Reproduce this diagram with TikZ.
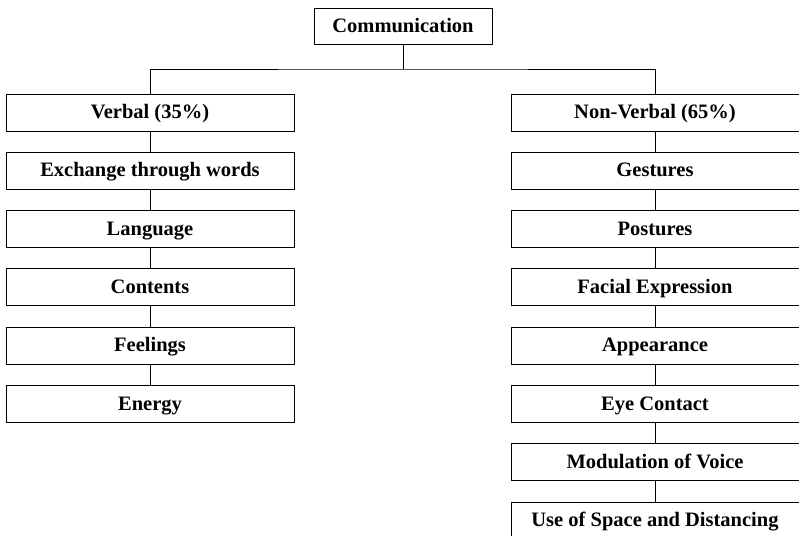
\documentclass[tikz,border=0pt]{standalone}
\usepackage{fontspec}
\setmainfont{Liberation Serif}
\usetikzlibrary{positioning}

\begin{document}
\begin{tikzpicture}[
    x=1pt, y=-1pt,
    node distance=20.3pt,
    box/.style={rectangle, draw=black, line width=1pt, inner sep=0pt, align=center, text height=15.5pt, text depth=3.5pt, minimum height=37pt, minimum width=288pt, font=\fontsize{20.5}{24}\selectfont\bfseries},
    headbox/.style={box, minimum width=178pt, minimum height=36pt},
    link/.style={draw=black, line width=1pt}
]
    \useasboundingbox (0,0) rectangle (799,535);

    \node [headbox] (comm) at (403,27) {Communication};
    \coordinate (bus) at (403,69);

    % verbal side
    \node [box] (v0) at (150,112.5) {Verbal (35\%)};
    \node [box, below=of v0] (v1) {Exchange through words};
    \node [box, below=of v1] (v2) {Language};
    \node [box, below=of v2] (v3) {Contents};
    \node [box, below=of v3] (v4) {Feelings};
    \node [box, below=of v4] (v5) {Energy};

    % non-verbal side
    \node [box] (n0) at (655,112.5) {Non-Verbal (65\%)};
    \node [box, below=of n0] (n1) {Gestures};
    \node [box, below=of n1] (n2) {Postures};
    \node [box, below=of n2] (n3) {Facial Expression};
    \node [box, below=of n3] (n4) {Appearance};
    \node [box, below=of n4] (n5) {Eye Contact};
    \node [box, below=of n5] (n6) {Modulation of Voice};
    \node [box, below=of n6] (n7) {Use of Space and Distancing};

    \draw [link] (comm) -- (bus);
    \draw [link] (v0) |- (bus) -| (n0);
    \foreach \i [count=\j from 1] in {0,...,4} \draw [link] (v\i) -- (v\j);
    \foreach \i [count=\j from 1] in {0,...,6} \draw [link] (n\i) -- (n\j);
\end{tikzpicture}
\end{document}
